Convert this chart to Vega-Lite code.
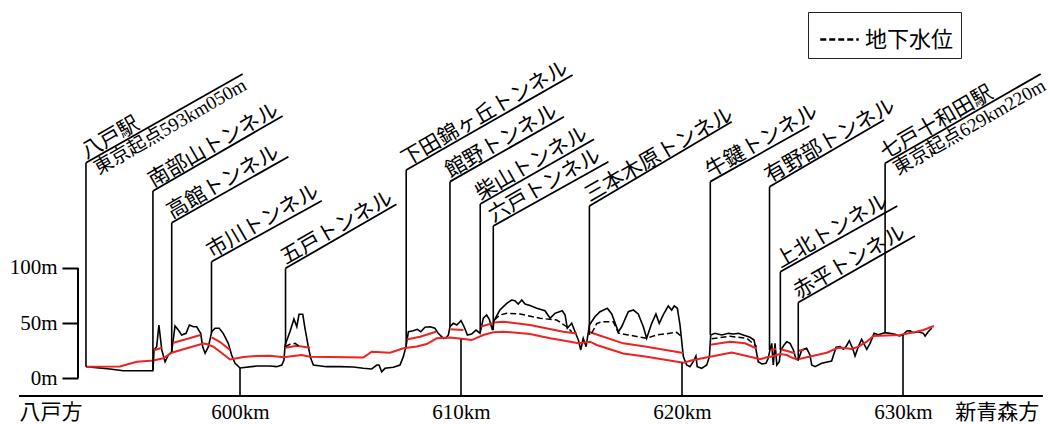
{
  "$schema": "https://vega.github.io/schema/vega-lite/v6.json",
  "width": 1052,
  "height": 424,
  "padding": 0,
  "autosize": {"type": "none"},
  "background": "white",
  "config": {
    "view": {"stroke": null},
    "font": "Liberation Serif, Noto Sans CJK JP"
  },
  "datasets": {
    "ground": [
      {"km":593.03,"m":10.3},{"km":594.12,"m":8.2},{"km":594.71,"m":6.6},{"km":596.06,"m":6.6},{"km":596.11,"m":25.5},
      {"km":596.23,"m":28.5},{"km":596.33,"m":48.2},{"km":596.46,"m":25.5},{"km":596.61,"m":14.8},{"km":596.76,"m":20.9},
      {"km":596.91,"m":23.9},{"km":597.06,"m":47.3},{"km":597.21,"m":43.6},{"km":597.36,"m":39.1},{"km":597.56,"m":40.6},
      {"km":597.71,"m":48.2},{"km":597.89,"m":46.6},{"km":598.04,"m":46.6},{"km":598.22,"m":40.6},{"km":598.31,"m":28.5},
      {"km":598.42,"m":22.5},{"km":598.57,"m":28.5},{"km":598.72,"m":42.1},{"km":598.87,"m":45.2},{"km":599.06,"m":45.2},
      {"km":599.24,"m":40.6},{"km":599.47,"m":31.5},{"km":599.62,"m":20.9},{"km":599.77,"m":13.6},{"km":600.0,"m":9.1},
      {"km":600.76,"m":10.9},{"km":601.36,"m":10.9},{"km":601.66,"m":10.3},{"km":601.89,"m":11.8},{"km":601.99,"m":16.4},
      {"km":602.04,"m":30.0},{"km":602.26,"m":42.1},{"km":602.44,"m":53.6},{"km":602.57,"m":46.6},{"km":602.67,"m":57.9},
      {"km":602.84,"m":57.9},{"km":602.94,"m":45.2},{"km":603.09,"m":28.5},{"km":603.2,"m":17.9},{"km":603.32,"m":11.8},
      {"km":603.92,"m":10.3},{"km":604.52,"m":10.3},{"km":605.13,"m":10.0},{"km":605.58,"m":8.8},{"km":605.96,"m":8.2},
      {"km":606.19,"m":11.8},{"km":606.29,"m":11.8},{"km":606.41,"m":5.7},{"km":606.56,"m":8.8},{"km":606.94,"m":9.7},
      {"km":607.24,"m":11.8},{"km":607.39,"m":19.4},{"km":607.51,"m":28.5},{"km":607.62,"m":42.1},{"km":607.84,"m":43.0},
      {"km":608.02,"m":44.3},{"km":608.18,"m":42.1},{"km":608.37,"m":46.1},{"km":608.6,"m":46.6},{"km":608.82,"m":45.2},
      {"km":608.97,"m":40.6},{"km":609.2,"m":36.1},{"km":609.32,"m":36.4},{"km":609.43,"m":39.1},{"km":609.5,"m":46.6},
      {"km":609.65,"m":49.7},{"km":609.81,"m":48.2},{"km":610.0,"m":52.1},{"km":610.14,"m":46.6},{"km":610.29,"m":39.1},
      {"km":610.48,"m":40.0},{"km":610.68,"m":43.6},{"km":610.86,"m":40.6},{"km":611.01,"m":54.3},{"km":611.16,"m":57.3},
      {"km":611.28,"m":53.4},{"km":611.42,"m":43.6},{"km":611.51,"m":52.7},{"km":611.76,"m":61.8},{"km":612.07,"m":67.9},
      {"km":612.29,"m":70.9},{"km":612.44,"m":70.3},{"km":612.59,"m":67.3},{"km":612.75,"m":70.9},{"km":612.9,"m":67.3},
      {"km":613.12,"m":65.9},{"km":613.43,"m":63.4},{"km":613.8,"m":61.2},{"km":614.03,"m":54.3},{"km":614.25,"m":58.8},
      {"km":614.58,"m":61.2},{"km":614.71,"m":57.3},{"km":614.81,"m":45.2},{"km":615.01,"m":49.7},{"km":615.16,"m":42.1},
      {"km":615.31,"m":34.5},{"km":615.42,"m":25.5},{"km":615.53,"m":36.1},{"km":615.66,"m":28.5},{"km":615.81,"m":48.2},
      {"km":616.06,"m":55.7},{"km":616.29,"m":60.3},{"km":616.62,"m":63.4},{"km":616.82,"m":58.2},{"km":617.12,"m":42.1},
      {"km":617.27,"m":46.6},{"km":617.57,"m":60.3},{"km":617.8,"m":61.8},{"km":618.02,"m":58.2},{"km":618.25,"m":46.6},
      {"km":618.4,"m":36.1},{"km":618.63,"m":49.7},{"km":618.82,"m":58.2},{"km":618.97,"m":49.7},{"km":619.15,"m":57.3},
      {"km":619.38,"m":65.5},{"km":619.53,"m":61.8},{"km":619.65,"m":65.5},{"km":619.79,"m":63.4},{"km":619.91,"m":48.2},
      {"km":620.06,"m":19.4},{"km":620.21,"m":11.8},{"km":620.36,"m":10.3},{"km":620.51,"m":14.8},{"km":620.63,"m":20.0},
      {"km":620.69,"m":10.3},{"km":620.89,"m":8.8},{"km":621.12,"m":11.8},{"km":621.24,"m":19.4},{"km":621.3,"m":39.1},
      {"km":621.49,"m":40.6},{"km":621.8,"m":39.1},{"km":622.1,"m":40.6},{"km":622.32,"m":40.0},{"km":622.55,"m":40.6},
      {"km":622.77,"m":39.1},{"km":623.08,"m":37.0},{"km":623.26,"m":34.5},{"km":623.35,"m":25.5},{"km":623.45,"m":14.8},
      {"km":623.61,"m":12.7},{"km":623.8,"m":13.4},{"km":623.9,"m":17.9},{"km":623.98,"m":25.5},{"km":624.06,"m":31.5},
      {"km":624.13,"m":11.8},{"km":624.21,"m":31.5},{"km":624.29,"m":11.8},{"km":624.4,"m":14.8},{"km":624.47,"m":25.5},
      {"km":624.62,"m":30.0},{"km":624.74,"m":33.0},{"km":624.89,"m":31.5},{"km":625.04,"m":25.5},{"km":625.16,"m":17.0},
      {"km":625.26,"m":16.4},{"km":625.42,"m":25.5},{"km":625.64,"m":27.0},{"km":625.79,"m":20.9},{"km":625.87,"m":11.8},
      {"km":626.02,"m":10.3},{"km":626.32,"m":13.4},{"km":626.77,"m":15.5},{"km":626.97,"m":27.9},{"km":627.15,"m":28.5},
      {"km":627.3,"m":26.1},{"km":627.42,"m":28.5},{"km":627.57,"m":33.9},{"km":627.72,"m":27.0},{"km":627.83,"m":20.0},
      {"km":627.98,"m":28.5},{"km":628.13,"m":35.2},{"km":628.24,"m":30.9},{"km":628.36,"m":26.1},{"km":628.51,"m":31.5},
      {"km":628.69,"m":40.6},{"km":628.88,"m":39.4},{"km":629.19,"m":41.2},{"km":629.41,"m":40.6},{"km":629.64,"m":39.7},
      {"km":629.83,"m":38.2},{"km":629.99,"m":39.1},{"km":630.17,"m":42.7},{"km":630.32,"m":43.0},{"km":630.47,"m":41.2},
      {"km":630.69,"m":42.1},{"km":630.92,"m":40.6},{"km":631.0,"m":38.2},{"km":631.14,"m":42.1},{"km":631.3,"m":45.2}
    ],
    "rail": [
      {"km":593.03,"m":10.3},{"km":594.57,"m":10.5},{"km":594.8,"m":11.8},{"km":595.33,"m":14.8},{"km":596.08,"m":15.9},
      {"km":596.53,"m":17.9},{"km":596.91,"m":23.0},{"km":597.59,"m":27.0},{"km":598.34,"m":31.4},{"km":598.49,"m":30.9},
      {"km":598.79,"m":28.5},{"km":599.1,"m":23.9},{"km":599.55,"m":16.8},{"km":599.85,"m":17.9},{"km":600.15,"m":19.1},
      {"km":600.76,"m":20.0},{"km":601.36,"m":20.3},{"km":601.96,"m":18.8},{"km":602.79,"m":20.9},{"km":603.17,"m":19.4},
      {"km":604.07,"m":19.1},{"km":605.58,"m":18.6},{"km":605.96,"m":23.9},{"km":606.79,"m":23.0},{"km":607.39,"m":27.0},
      {"km":608.0,"m":28.6},{"km":608.45,"m":30.9},{"km":608.9,"m":36.1},{"km":609.5,"m":36.8},{"km":610.03,"m":35.7},
      {"km":610.48,"m":34.5},{"km":611.01,"m":39.1},{"km":611.46,"m":41.5},{"km":611.91,"m":42.1},{"km":613.12,"m":40.0},
      {"km":614.03,"m":36.1},{"km":614.63,"m":34.1},{"km":615.31,"m":31.5},{"km":615.84,"m":33.0},{"km":616.14,"m":30.0},
      {"km":617.34,"m":22.3},{"km":618.4,"m":19.4},{"km":620.06,"m":13.9},{"km":620.51,"m":16.4},{"km":621.27,"m":19.4},
      {"km":622.25,"m":23.2},{"km":623.08,"m":19.4},{"km":623.53,"m":17.0},{"km":623.83,"m":18.8},{"km":624.06,"m":19.5},
      {"km":624.43,"m":21.8},{"km":624.74,"m":20.9},{"km":625.04,"m":17.9},{"km":625.26,"m":17.0},{"km":625.64,"m":18.8},
      {"km":626.1,"m":20.9},{"km":626.55,"m":23.0},{"km":627.0,"m":27.0},{"km":627.23,"m":27.5},{"km":627.68,"m":26.4},
      {"km":627.98,"m":28.5},{"km":628.36,"m":33.0},{"km":628.66,"m":38.2},{"km":629.56,"m":38.8},{"km":629.86,"m":39.1},
      {"km":630.47,"m":41.5},{"km":630.92,"m":43.6},{"km":631.4,"m":47.3}
    ],
    "crown": [
      {"seg":1,"km":596.08,"m":25.0},{"seg":1,"km":596.46,"m":27.5},
      {"seg":2,"km":596.95,"m":31.8},{"seg":2,"km":597.59,"m":35.5},{"seg":2,"km":598.21,"m":39.1},
      {"seg":3,"km":598.72,"m":37.0},{"seg":3,"km":599.1,"m":32.7},{"seg":3,"km":599.55,"m":25.5},
      {"seg":4,"km":602.04,"m":27.5},{"seg":4,"km":602.57,"m":29.4},{"seg":4,"km":603.17,"m":27.5},
      {"seg":5,"km":607.54,"m":35.0},{"seg":5,"km":608.15,"m":37.5},{"seg":5,"km":608.87,"m":42.1},
      {"seg":6,"km":609.52,"m":44.3},{"seg":6,"km":610.11,"m":43.6},
      {"seg":7,"km":610.88,"m":46.6},{"seg":7,"km":611.42,"m":49.7},
      {"seg":8,"km":611.46,"m":50.5},{"seg":8,"km":611.91,"m":51.2},{"seg":8,"km":613.12,"m":48.2},{"seg":8,"km":614.63,"m":42.1},{"seg":8,"km":615.24,"m":40.5},
      {"seg":9,"km":615.81,"m":41.8},{"seg":9,"km":616.14,"m":39.5},{"seg":9,"km":617.34,"m":31.5},{"seg":9,"km":618.4,"m":28.5},{"seg":9,"km":620.06,"m":22.7},
      {"seg":10,"km":621.29,"m":30.3},{"seg":10,"km":622.17,"m":33.0},{"seg":10,"km":622.85,"m":31.5},{"seg":10,"km":623.38,"m":26.8},
      {"seg":11,"km":623.98,"m":25.5},{"seg":11,"km":624.25,"m":26.4},
      {"seg":12,"km":624.47,"m":26.1},{"seg":12,"km":625.11,"m":22.5},
      {"seg":13,"km":625.26,"m":24.8},{"seg":13,"km":625.52,"m":25.5}
    ],
    "water": [
      {"seg":1,"type":"地下水位","km":602.04,"m":28.5},{"seg":1,"type":"地下水位","km":602.26,"m":30.6},{"seg":1,"type":"地下水位","km":602.49,"m":31.5},{"seg":1,"type":"地下水位","km":602.71,"m":28.5},
      {"seg":2,"type":"地下水位","km":611.51,"m":52.7},{"seg":2,"type":"地下水位","km":611.76,"m":57.3},{"seg":2,"type":"地下水位","km":612.07,"m":58.8},{"seg":2,"type":"地下水位","km":612.67,"m":58.2},
      {"seg":2,"type":"地下水位","km":613.57,"m":54.3},{"seg":2,"type":"地下水位","km":614.33,"m":52.7},{"seg":2,"type":"地下水位","km":614.78,"m":46.6},{"seg":2,"type":"地下水位","km":615.01,"m":42.1},
      {"seg":3,"type":"地下水位","km":615.91,"m":40.6},{"seg":3,"type":"地下水位","km":616.14,"m":49.5},{"seg":3,"type":"地下水位","km":616.37,"m":51.2},{"seg":3,"type":"地下水位","km":616.89,"m":51.2},
      {"seg":3,"type":"地下水位","km":617.12,"m":40.9},{"seg":3,"type":"地下水位","km":617.5,"m":39.4},{"seg":3,"type":"地下水位","km":618.4,"m":36.1},{"seg":3,"type":"地下水位","km":618.86,"m":39.1},
      {"seg":3,"type":"地下水位","km":619.76,"m":41.5},{"seg":3,"type":"地下水位","km":619.99,"m":37.5},
      {"seg":4,"type":"地下水位","km":621.34,"m":35.6},{"seg":4,"type":"地下水位","km":622.17,"m":37.9},{"seg":4,"type":"地下水位","km":622.93,"m":36.1},{"seg":4,"type":"地下水位","km":623.38,"m":28.5}
    ],
    "kmTicks": [
      {"km":600,"g":9.1},{"km":610,"g":35.2},{"km":620,"g":13.9},{"km":630,"g":39.1}
    ],
    "leaders": [
      {"name":"八戸駅","sub":"東京起点593km050m","km":593.03,"g":10.3,"top":195.7,"km2":600.12,"top2":276.4},
      {"name":"南部山トンネル","km":596.06,"g":7.3,"top":170.0,"km2":601.93,"top2":238.2},
      {"name":"高館トンネル","km":596.91,"g":23.9,"top":141.2,"km2":602.19,"top2":201.2},
      {"name":"市川トンネル","km":598.71,"g":40.9,"top":105.7,"km2":603.7,"top2":161.2},
      {"name":"五戸トンネル","km":602.06,"g":30.0,"top":99.7,"km2":607.08,"top2":157.9},
      {"name":"下田錦ヶ丘トンネル","km":607.52,"g":28.5,"top":189.1,"km2":615.05,"top2":275.5},
      {"name":"館野トンネル","km":609.5,"g":46.4,"top":178.5,"km2":614.66,"top2":237.5},
      {"name":"柴山トンネル","km":610.87,"g":40.9,"top":158.2,"km2":616.02,"top2":217.0},
      {"name":"六戸トンネル","km":611.46,"g":43.6,"top":138.2,"km2":616.67,"top2":196.6},
      {"name":"三本木原トンネル","km":615.81,"g":39.1,"top":156.4,"km2":622.25,"top2":233.0},
      {"name":"牛鍵トンネル","km":621.28,"g":39.1,"top":178.5,"km2":625.76,"top2":229.1},
      {"name":"有野部トンネル","km":623.96,"g":25.5,"top":173.9,"km2":629.14,"top2":234.5},
      {"name":"上北トンネル","km":624.45,"g":25.5,"top":96.6,"km2":629.74,"top2":156.4},
      {"name":"赤平トンネル","km":625.26,"g":16.4,"top":68.6,"km2":630.54,"top2":129.1},
      {"name":"七戸十和田駅","sub":"東京起点629km220m","km":629.19,"g":40.9,"top":195.2,"km2":636.23,"top2":276.4}
    ]
  },
  "layer": [
    {
      "data": {"name": "ground"},
      "mark": {"type": "line", "color": "black", "strokeWidth": 1.6},
      "encoding": {
        "x": {
          "field": "km", "type": "quantitative", "title": null,
          "scale": {"domain": [589.14, 636.742], "nice": false, "zero": false},
          "axis": {
            "values": [591.43, 600, 610, 620, 630, 634.24],
            "labelExpr": "datum.value < 595 ? '八戸方' : (datum.value > 632 ? '新青森方' : datum.value + 'km')",
            "ticks": false, "tickSize": 0, "domain": false, "grid": false,
            "offset": -28, "labelPadding": 5, "labelFontSize": 21,
            "labelFont": "Liberation Serif, Noto Sans CJK JP", "labelColor": "black",
            "labelOverlap": false, "labelFlush": false, "labelBound": false, "title": null
          }
        },
        "y": {
          "field": "m", "type": "quantitative", "title": null,
          "scale": {"domain": [-41.818, 343.636], "nice": false, "zero": false},
          "axis": {
            "values": [0, 50, 100],
            "labelExpr": "datum.value + 'm'",
            "domain": false, "grid": false, "ticks": true, "tickSize": 16, "tickWidth": 2, "tickColor": "black",
            "offset": -78, "labelPadding": 5, "labelFontSize": 21,
            "labelFont": "Liberation Serif, Noto Sans CJK JP", "labelColor": "black",
            "labelOverlap": false, "labelBound": false, "title": null
          }
        }
      }
    },
    {
      "data": {"name": "rail"},
      "mark": {"type": "line", "color": "#ee2222", "strokeWidth": 2},
      "encoding": {
        "x": {"field": "km", "type": "quantitative", "title": null},
        "y": {"field": "m", "type": "quantitative", "title": null}
      }
    },
    {
      "data": {"name": "crown"},
      "mark": {"type": "line", "color": "#ee2222", "strokeWidth": 2},
      "encoding": {
        "x": {"field": "km", "type": "quantitative", "title": null},
        "y": {"field": "m", "type": "quantitative", "title": null},
        "detail": {"field": "seg", "type": "nominal"}
      }
    },
    {
      "data": {"name": "water"},
      "mark": {"type": "line", "color": "black", "strokeWidth": 1.5},
      "encoding": {
        "x": {"field": "km", "type": "quantitative", "title": null},
        "y": {"field": "m", "type": "quantitative", "title": null},
        "detail": {"field": "seg", "type": "nominal"},
        "strokeDash": {
          "field": "type", "type": "nominal",
          "scale": {"domain": ["地下水位"], "range": [[6, 3]]},
          "legend": {
            "orient": "none", "legendX": 808, "legendY": 12,
            "title": null, "padding": 7, "symbolOffset": 4,
            "strokeColor": "#222", "fillColor": "white",
            "symbolType": "stroke", "symbolSize": 1482, "symbolStrokeWidth": 2.5, "symbolStrokeColor": "black",
            "labelFontSize": 22, "labelFont": "Noto Sans CJK JP", "labelColor": "black", "labelOffset": 5
          }
        }
      }
    },
    {
      "data": {"name": "kmTicks"},
      "mark": {"type": "rule", "color": "black", "strokeWidth": 1.6},
      "encoding": {
        "x": {"field": "km", "type": "quantitative", "title": null},
        "y": {"field": "g", "type": "quantitative", "title": null},
        "y2": {"datum": -16.36}
      }
    },
    {
      "data": {"name": "leaders"},
      "mark": {"type": "rule", "color": "black", "strokeWidth": 1.6},
      "encoding": {
        "x": {"field": "km", "type": "quantitative", "title": null},
        "y": {"field": "g", "type": "quantitative", "title": null},
        "y2": {"field": "top"}
      }
    },
    {
      "data": {"name": "leaders"},
      "mark": {"type": "rule", "color": "black", "strokeWidth": 1.8},
      "encoding": {
        "x": {"field": "km", "type": "quantitative", "title": null},
        "y": {"field": "top", "type": "quantitative", "title": null},
        "x2": {"field": "km2"},
        "y2": {"field": "top2"}
      }
    },
    {
      "data": {"name": "leaders"},
      "mark": {"type": "text", "angle": 330, "align": "left", "baseline": "alphabetic", "dx": 2, "dy": -3, "fontSize": 21, "font": "Liberation Serif, Noto Sans CJK JP", "color": "black"},
      "encoding": {
        "x": {"field": "km", "type": "quantitative", "title": null},
        "y": {"field": "top", "type": "quantitative", "title": null},
        "text": {"field": "name"}
      }
    },
    {
      "data": {"name": "leaders"},
      "transform": [{"filter": "datum.sub"}],
      "mark": {"type": "text", "angle": 330, "align": "left", "baseline": "top", "dx": 5, "dy": 2, "fontSize": 19, "font": "Liberation Serif, Noto Sans CJK JP", "color": "black"},
      "encoding": {
        "x": {"field": "km", "type": "quantitative", "title": null},
        "y": {"field": "top", "type": "quantitative", "title": null},
        "text": {"field": "sub"}
      }
    },
    {
      "data": {"values": [{}]},
      "mark": {"type": "rule", "color": "black", "strokeWidth": 2},
      "encoding": {
        "x": {"datum": 590.0, "type": "quantitative", "title": null},
        "x2": {"datum": 636.33},
        "y": {"datum": -16.36, "type": "quantitative", "title": null}
      }
    },
    {
      "data": {"values": [{}]},
      "mark": {"type": "rule", "color": "black", "strokeWidth": 2},
      "encoding": {
        "x": {"datum": 592.67, "type": "quantitative", "title": null},
        "y": {"datum": 0, "type": "quantitative", "title": null},
        "y2": {"datum": 100}
      }
    }
  ]
}
